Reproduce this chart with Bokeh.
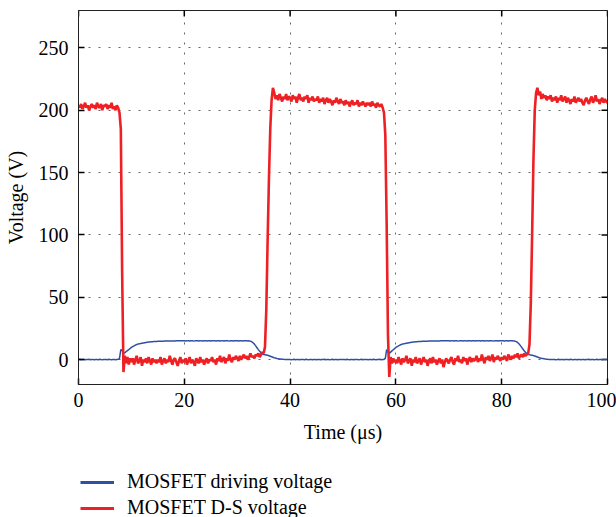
import math
from bokeh.plotting import figure
from bokeh.layouts import column
from bokeh.models import FixedTicker, Legend, LegendItem, Range1d
from bokeh.embed import file_html
from bokeh.resources import INLINE

# ---------------- data ----------------
dt_us = 0.25  # sample spacing in microseconds

# MOSFET D-S voltage (V), one sample every 0.25 us from 0 to 100 us
vds = [
    204, 202, 205, 201, 203, 206, 202, 204, 200, 203, 205, 202, 204, 201, 206, 203, 202, 205, 200, 204,
    203, 205, 201, 204, 202, 206, 201, 203, 200, 204, 202, 198, 185, 70, -10, 3, -3, 2, -4, 1,
    -2, 1, -4, 0, 3, -3, -1, 2, -5, 0, -2, 1, -3, 2, -1, -4, 1, -2, 0, -3,
    0, -2, 2, -4, -1, 1, -3, 0, -2, 3, -1, -4, 0, 1, -2, -5, -1, 2, -3, 0,
    -2, 1, -4, -1, 2, -3, 0, -2, -5, 1, -1, -3, 2, -2, 0, -4, -1, 1, -3, 0,
    -1, 2, -2, 0, -4, 1, -1, 3, -2, 0, 2, -3, 1, -1, 4, 0, -2, 2, 0, 3,
    1, -1, 3, 0, 2, 4, 1, 3, 0, 2, 5, 2, 3, 1, 4, 3, 5, 2, 4, 6,
    5, 10, 40, 95, 145, 185, 208, 218, 214, 209, 212, 208, 213, 210, 207, 211, 209, 213, 208, 211,
    210, 207, 212, 209, 211, 206, 210, 213, 208, 210, 207, 211, 209, 212, 206, 210, 208, 211, 207, 209,
    208, 211, 206, 209, 207, 210, 205, 208, 210, 206, 209, 207, 204, 208, 206, 210, 207, 205, 209, 206,
    207, 204, 208, 205, 207, 203, 206, 208, 204, 206, 205, 208, 203, 206, 204, 207, 205, 203, 206, 204,
    206, 203, 207, 204, 205, 202, 206, 204, 203, 205, 202, 198, 180, 110, 20, -14, 2, -3, 1, -2,
    0, -3, 2, -1, -4, 1, -2, 0, 3, -3, -1, 1, -5, 0, -2, 2, -3, -1, 1, -4,
    -1, 2, -2, 0, -5, -1, 1, -3, 2, -2, 0, -4, -1, 1, -3, 0, -6, -2, 1, -1,
    -3, 0, 2, -2, -4, 1, -1, 3, -2, 0, -3, 2, -1, 1, -4, 0, 2, -2, 1, -1,
    0, 3, -2, 1, -1, 4, 0, -3, 2, 0, 3, -1, 1, 4, -2, 2, 0, 3, 1, -1,
    2, 0, 3, 1, -1, 4, 2, 0, 3, 1, 4, 2, 5, 1, 3, 4, 2, 5, 3, 4,
    5, 12, 45, 100, 160, 200, 214, 218, 212, 215, 209, 213, 210, 212, 208, 211, 209, 212, 207, 210,
    208, 211, 206, 210, 208, 212, 207, 209, 211, 206, 210, 208, 205, 209, 207, 211, 206, 208, 210, 207,
    209, 206, 204, 208, 210, 207, 205, 209, 211, 206, 208, 212, 207, 209, 205, 208, 210, 206, 209, 207, 206,
]

# MOSFET driving voltage (V), same sampling
vgs = [
    0, 0.2, -0.1, 0.1, 0, -0.2, 0.1, 0, 0.2, -0.1, 0, 0.1, -0.2, 0, 0.1, -0.1, 0.2, 0, -0.1, 0.1,
    0, 0.1, -0.1, 0.2, 0, -0.1, 0.1, 0, -0.2, 0.1, 0.2, 1, 8, 7.5, 5, 5.5, 6.4, 7.2, 8.0, 8.9,
    9.8, 10.4, 11.0, 11.6, 12.1, 12.4, 12.6, 12.9, 13.1, 13.3, 13.5, 13.7, 13.9, 14.0, 14.1, 14.2, 14.3, 14.4, 14.5, 14.5,
    14.6, 14.6, 14.7, 14.7, 14.7, 14.8, 14.8, 14.8, 14.8, 14.9, 14.9, 14.9, 14.9, 14.9, 15, 15, 15, 15, 15, 15,
    15.1, 14.9, 15, 15.2, 14.9, 15, 15.1, 14.8, 15, 15.1, 15, 14.9, 15.2, 15, 14.9, 15.1, 15, 14.9, 15.1, 15,
    14.9, 15.1, 15, 15.2, 14.9, 15, 15.1, 14.9, 15, 15.2, 14.9, 15, 15.1, 15, 14.8, 15.1, 15, 14.9, 15.1, 15,
    15.1, 14.9, 15, 15.1, 14.9, 15, 15.1, 15, 14.9, 15, 14.8, 14.3, 13.5, 12.4, 11.0, 9.5, 8.0, 6.6, 5.4, 4.4,
    4.0, 3.8, 3.6, 3.4, 3.1, 2.7, 2.3, 1.9, 1.5, 1.2, 0.9, 0.7, 0.5, 0.4, 0.3, 0.2, 0.15, 0.1, 0.05, 0,
    0.1, -0.1, 0, 0.2, -0.1, 0, 0.1, -0.2, 0, 0.1, 0, -0.1, 0.2, 0, -0.1, 0.1, 0, -0.2, 0.1, 0,
    -0.1, 0.1, 0, -0.2, 0.1, 0, 0.2, -0.1, 0, 0.1, -0.1, 0, 0.2, -0.1, 0, 0.1, -0.2, 0, 0.1, 0,
    0.1, 0, -0.1, 0.2, 0, -0.1, 0.1, 0, -0.2, 0.1, 0, 0.1, -0.1, 0, 0.2, -0.1, 0, 0.1, 0, -0.1,
    0.1, 0, -0.1, 0.2, 0, -0.1, 0.1, 0, 0.2, -0.1, 0, 0.1, 1, 8, 6, 5, 6, 7, 7.9, 8.8,
    9.7, 10.4, 11.0, 11.6, 12.1, 12.4, 12.6, 12.9, 13.1, 13.3, 13.5, 13.7, 13.9, 14.0, 14.1, 14.2, 14.3, 14.4, 14.5, 14.5,
    14.6, 14.6, 14.7, 14.7, 14.7, 14.8, 14.8, 14.8, 14.8, 14.9, 14.9, 14.9, 14.9, 14.9, 15, 15, 15, 15, 15, 15,
    15.1, 14.9, 15, 15.2, 14.9, 15, 15.1, 14.8, 15, 15.1, 15, 14.9, 15.2, 15, 14.9, 15.1, 15, 14.9, 15.1, 15,
    14.9, 15.1, 15, 15.2, 14.9, 15, 15.1, 14.9, 15, 15.2, 14.9, 15, 15.1, 15, 14.8, 15.1, 15, 14.9, 15.1, 15,
    15, 15.1, 14.9, 15, 15.1, 14.9, 15, 15.1, 15, 14.9, 14.8, 14.4, 13.7, 12.7, 11.4, 10.0, 8.5, 7.1, 5.9, 4.9,
    4.2, 3.9, 3.7, 3.5, 3.2, 2.8, 2.4, 2.0, 1.6, 1.3, 1.0, 0.8, 0.6, 0.4, 0.3, 0.2, 0.15, 0.1, 0.05, 0,
    0.1, -0.1, 0, 0.2, -0.1, 0, 0.1, -0.2, 0, 0.1, 0, -0.1, 0.2, 0, -0.1, 0.1, 0, -0.2, 0.1, 0,
    -0.1, 0.1, 0, -0.2, 0.1, 0, 0.2, -0.1, 0, 0.1, -0.1, 0, 0.2, -0.1, 0, 0.1, -0.2, 0, 0.1, 0, 0,
]

t_vds = [i * dt_us for i in range(len(vds))]
t_vgs = [i * dt_us for i in range(len(vgs))]

x_ticks = [0, 20, 40, 60, 80, 100]
y_ticks = [0, 50, 100, 150, 200, 250]
x_lim = (0, 100)
y_lim = (-20, 280)
series_labels = ["MOSFET driving voltage", "MOSFET D-S voltage"]

# ---------------- styling ----------------
BLUE = "#2E4FA3"
RED = "#EE2024"
FONT = "Liberation Serif"
FS = "20px"
FRAME = "#222222"

p = figure(width=616, height=445, output_backend="svg", toolbar_location=None,
           x_range=Range1d(*x_lim), y_range=Range1d(*y_lim),
           min_border_left=78, min_border_right=9, min_border_top=10, min_border_bottom=60,
           x_axis_label="Time (μs)", y_axis_label="Voltage (V)")

p.outline_line_color = FRAME
p.outline_line_width = 1
p.background_fill_color = "white"
p.border_fill_color = "white"

for ax, tk in ((p.xaxis[0], x_ticks), (p.yaxis[0], y_ticks)):
    ax.ticker = FixedTicker(ticks=tk)
    ax.major_tick_in = 6
    ax.major_tick_out = 0
    ax.major_tick_line_color = "black"
    ax.major_tick_line_width = 1.5
    ax.minor_tick_line_color = None
    ax.axis_line_color = FRAME
    ax.major_label_text_font = FONT
    ax.major_label_text_font_size = FS
    ax.major_label_text_color = "black"
    ax.axis_label_text_font = FONT
    ax.axis_label_text_font_size = FS
    ax.axis_label_text_font_style = "normal"
    ax.axis_label_text_color = "black"

p.xaxis[0].major_label_standoff = 8
p.xaxis[0].axis_label_standoff = 11
p.yaxis[0].major_label_standoff = 10
p.yaxis[0].axis_label_standoff = 9

p.xgrid.ticker = FixedTicker(ticks=x_ticks)
p.ygrid.ticker = FixedTicker(ticks=y_ticks)
for g in (p.xgrid, p.ygrid):
    g.grid_line_color = "#666666"
    g.grid_line_dash = "2 8"
    g.grid_line_width = 1

# mirror tick marks on the top and right frame edges (half of each dash is clipped)
p.scatter(x=x_ticks, y=[y_lim[1]] * len(x_ticks), marker="dash", size=12, angle=math.pi / 2,
          line_color="black", line_width=1.5)
p.scatter(x=[x_lim[1]] * len(y_ticks), y=y_ticks, marker="dash", size=12,
          line_color="black", line_width=1.5)

p.line(t_vgs, vgs, line_color=BLUE, line_width=1.5)
p.line(t_vds, vds, line_color=RED, line_width=2.6)

# ---------------- legend strip below the plot ----------------
lf = figure(width=616, height=72, output_backend="svg", toolbar_location=None,
            x_range=Range1d(0, 1), y_range=Range1d(0, 1),
            x_axis_location=None, y_axis_location=None,
            min_border_left=0, min_border_right=0, min_border_top=0, min_border_bottom=0)
lf.outline_line_color = None
lf.xgrid.visible = False
lf.ygrid.visible = False
# legend sample lines: one undrawn (NaN) point each, styled like the reference key
lb = lf.line(x=[math.nan], y=[math.nan], line_color=BLUE, line_width=3)
lr = lf.line(x=[math.nan], y=[math.nan], line_color=RED, line_width=3)

legend = Legend(items=[LegendItem(label=series_labels[0], renderers=[lb]),
                       LegendItem(label=series_labels[1], renderers=[lr])],
                location=(2, -2), orientation="vertical",
                padding=0, margin=0, spacing=3,
                glyph_width=34, glyph_height=20, label_height=20, label_standoff=13,
                label_text_font=FONT, label_text_font_size=FS, label_text_color="black",
                border_line_color=None, background_fill_alpha=0)
lf.add_layout(legend)

layout = column(p, lf, spacing=0)
open("out.html", "w").write(file_html(layout, INLINE))
